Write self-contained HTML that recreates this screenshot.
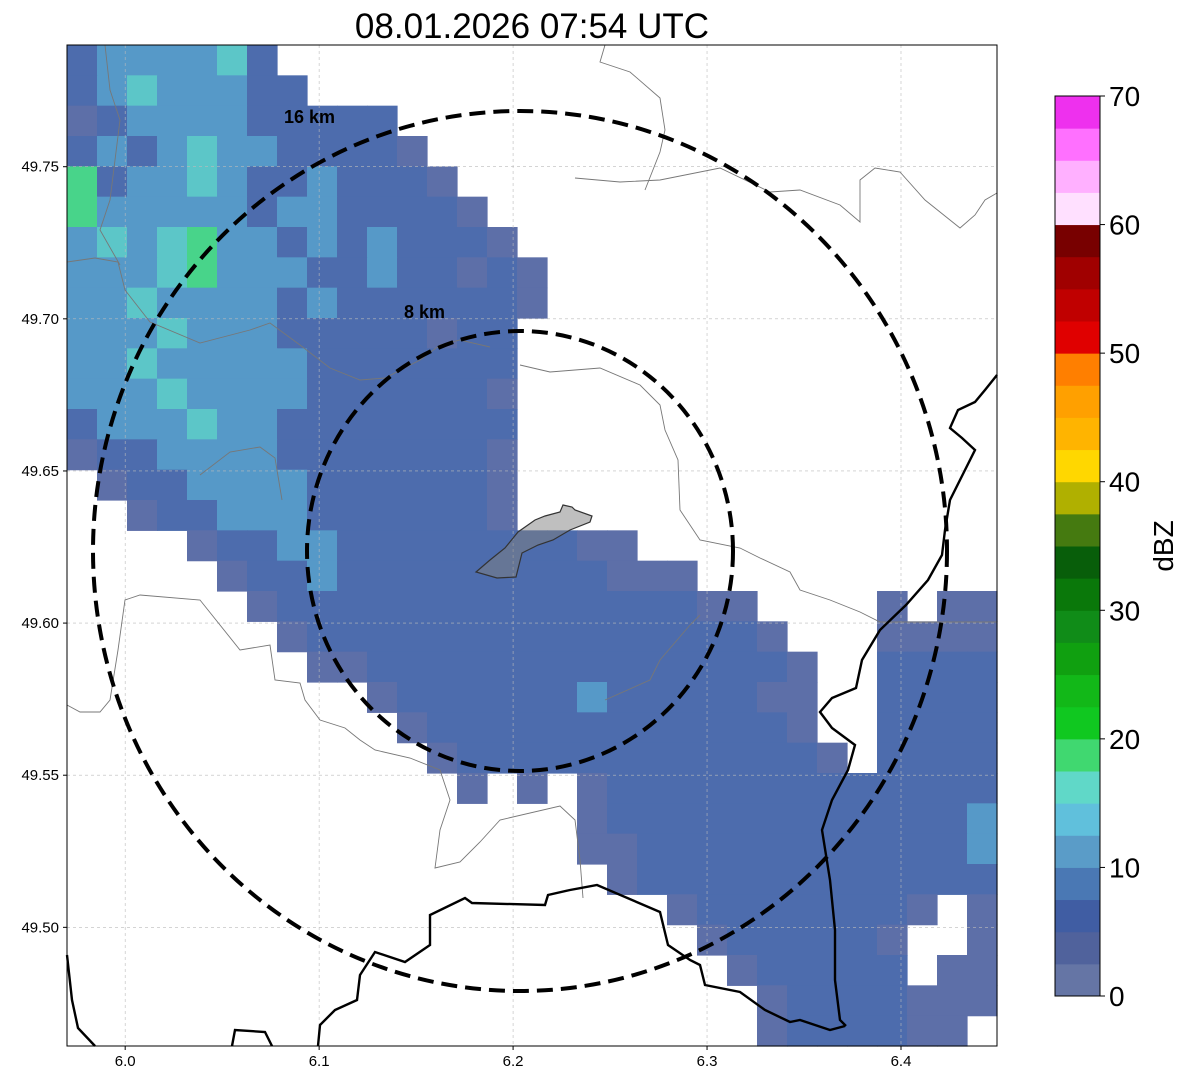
<!DOCTYPE html>
<html><head><meta charset="utf-8"><style>
html,body{margin:0;padding:0;background:#fff;}
svg{display:block;font-family:"Liberation Sans","DejaVu Sans",sans-serif;}
</style></head><body>
<svg id="chart" width="1188" height="1084" viewBox="0 0 1188 1084"></svg>
<script>
// ---- data ----
const lonTicks=[6.0,6.1,6.2,6.3,6.4];
const latTicks=[49.50,49.55,49.60,49.65,49.70,49.75];
const cbTicks=[0,10,20,30,40,50,60,70];
const cbColors=["#6575a5","#50629c","#405da3","#4a78b4","#5a9cc8","#60c0dc","#60d8c8","#40d870","#10c820","#12b818","#10a010","#108c18","#0a780a","#085e0a","#457a10","#b0b000","#ffd700","#ffb400","#ffa000","#ff7f00","#e00000","#c00000","#a00000","#780000","#ffe0ff","#ffb0ff","#ff70ff","#ee30ee"];
const levelColors={"1":"#5d6fa8","2":"#4d6cad","3":"#5699c8","4":"#5cc6c8","5":"#48d48a"};
const radarRows=[
"2333342........................",
"23433322.......................",
"12333322222....................",
"232343322221...................",
"5233432232221..................",
"53333323322221.................",
"343453323232221................",
"3334533322322121...............",
"3343333232222221...............",
"333433322222122................",
"334333332222222................",
"333433332222221................",
"233343322222222................",
"122333322222221................",
".12233332222221................",
"..1223332222221................",
"....122332222222211............",
".....1223222222222111..........",
"......12222222222222211....1.11",
".......12222222222222221...1111",
"........11222222222222221..2222",
"..........122222232222211..2222",
"...........12222222222221..2222",
"............12222222222221.2222",
".............1.1.12222222222222",
".................12222222222223",
".................11222222222223",
"..................1222222222222",
"....................122222221.1",
".....................1222221..1",
"......................122222.11",
".......................12222111",
".......................1222211."
];
const lonMin=5.970,lonMax=6.4495,latMin=49.461,latMax=49.790;
const X0=67,X1=997,Y0=45,Y1=1046;
const ax=l=>X0+(l-lonMin)/(lonMax-lonMin)*(X1-X0);
const ay=l=>Y1-(l-latMin)/(latMax-latMin)*(Y1-Y0);
const NS="http://www.w3.org/2000/svg";
const svg=document.getElementById('chart');
function mk(t,a,p){const e=document.createElementNS(NS,t);for(const k in a)e.setAttribute(k,a[k]);(p||svg).appendChild(e);return e;}

// radar cells
const gR=mk('g',{});


const nc=radarRows[0].length,nr=radarRows.length;
const cw=(X1-X0)/nc,ch=(Y1-Y0)/nr;
radarRows.forEach((row,r)=>{[...row].forEach((c,i)=>{
  if(c==='.')return;
  const e=mk('rect',{x:X0+i*cw,y:Y0+r*ch,width:cw+0.6,height:ch+0.6,fill:levelColors[c]},gR);
  
  
});});

// gridlines
lonTicks.forEach(v=>{const e=mk('line',{x1:ax(v),x2:ax(v),y1:Y0,y2:Y1,stroke:'#bbb','stroke-width':0.6,'stroke-dasharray':'3,3'});
});
latTicks.forEach(v=>{const e=mk('line',{x1:X0,x2:X1,y1:ay(v),y2:ay(v),stroke:'#bbb','stroke-width':0.6,'stroke-dasharray':'3,3'});
});

// thin admin boundaries
const thin=[
"605,45 600,62 630,72 660,98 665,130 660,152 645,190",
"575,178 620,182 660,180 720,168 770,192 800,190 840,205 860,222 860,180 875,168 900,172 925,200 960,228 975,215 985,200 997,193",
"520,365 550,372 600,368 640,385 660,405 665,430 678,460 680,510 700,540 740,548 760,558 790,572 800,590 830,600 860,612 880,622 997,622",
"67,705 80,712 100,712 110,700 118,650 125,600 140,595 200,600 240,650 270,645 275,680 300,683 305,700 320,720 345,728 360,740 375,750 410,758 440,770 450,800 440,830 435,868 460,862 480,842 500,820 560,806 575,820 580,860 583,898",
"67,262 95,258 118,262 125,290 150,322 200,343 250,330 270,323 300,345 330,368 360,380 385,378 420,360 440,345 460,340 490,347",
"105,45 110,90 120,120 115,160 110,200 100,230 120,265",
"200,475 230,452 260,447 275,458 282,500",
"605,700 650,680 660,660 690,625 700,615"
];
thin.forEach(p=>{const e=mk('polyline',{points:p,fill:'none',stroke:'#777','stroke-width':0.9});
});

// thick borders
const thick=[
"67,955 72,1000 78,1028 95,1046",
"232,1046 235,1030 265,1032 272,1046",
"318,1046 320,1025 335,1010 357,1000 360,975 375,952 405,962 430,945 430,915 465,898 472,903 545,905 548,895 570,890 597,885 660,912 668,945 690,960 700,965 705,985 740,992 765,1010 790,1022 800,1020 830,1030 845,1026",
"997,375 985,390 975,402 958,410 950,428 962,438 975,450 965,470 950,500 945,530 942,555 928,580 906,605 880,630 862,660 856,688 832,698 820,712 832,728 855,745 848,770 832,800 822,830 830,880 835,930 835,980 840,1020 846,1026"
];
thick.forEach(p=>{const e=mk('polyline',{points:p,fill:'none',stroke:'#000','stroke-width':2.4});
});

// city polygon
const city=mk('polygon',{points:"476,572 490,560 505,548 518,532 535,520 545,516 560,512 563,505 572,507 575,510 592,516 590,522 570,530 553,540 538,545 522,553 516,577 497,578",fill:'rgba(128,128,128,0.5)',stroke:'#333','stroke-width':1.2});


// range circles
const cx=520,cy=551;
[[427,440,'range-ring-16km'],[213,220,'range-ring-8km']].forEach(([rx,ry,n])=>{
 const e=mk('ellipse',{cx:cx,cy:cy,rx:rx,ry:ry,fill:'none',stroke:'#000','stroke-width':4,'stroke-dasharray':'16,8'});
 });
const l16=mk('text',{x:284,y:123,'font-size':18,'font-weight':'bold',fill:'#000'});l16.textContent='16 km';

const l8=mk('text',{x:404,y:318,'font-size':18,'font-weight':'bold',fill:'#000'});l8.textContent='8 km';


// frame
const fr=mk('rect',{x:X0,y:Y0,width:X1-X0,height:Y1-Y0,fill:'none',stroke:'#000','stroke-width':1});


// ticks
lonTicks.forEach(v=>{mk('line',{x1:ax(v),x2:ax(v),y1:Y1,y2:Y1+4,stroke:'#000'});
 const t=mk('text',{x:ax(v),y:Y1+20,'font-size':15,'text-anchor':'middle'});t.textContent=v.toFixed(1);
 });
latTicks.forEach(v=>{mk('line',{x1:X0-4,x2:X0,y1:ay(v),y2:ay(v),stroke:'#000'});
 const t=mk('text',{x:X0-8,y:ay(v)+5,'font-size':15,'text-anchor':'end'});t.textContent=v.toFixed(2);
 });

// title
const ti=mk('text',{x:532,y:38,'font-size':35,'text-anchor':'middle'});ti.textContent='08.01.2026 07:54 UTC';


// colorbar
const CB0=996,CB1=96,CX=1055,CW=45;
const cbY=v=>CB0-(v/70)*(CB0-CB1);
const gC=mk('g',{});
cbColors.forEach((c,i)=>{const e=mk('rect',{x:CX,y:cbY((i+1)*2.5),width:CW,height:cbY(i*2.5)-cbY((i+1)*2.5)+0.5,fill:c},gC);
 });
mk('rect',{x:CX,y:CB1,width:CW,height:CB0-CB1,fill:'none',stroke:'#000','stroke-width':1},gC);
cbTicks.forEach(v=>{mk('line',{x1:CX+CW,x2:CX+CW+5,y1:cbY(v),y2:cbY(v),stroke:'#000'},gC);
 const t=mk('text',{x:CX+CW+9,y:cbY(v)+10,'font-size':28},gC);t.textContent=v;
 });
const dl=mk('text',{x:0,y:0,'font-size':28,'text-anchor':'middle',transform:'translate(1173,546) rotate(-90)'});dl.textContent='dBZ';

</script>
</body></html>
